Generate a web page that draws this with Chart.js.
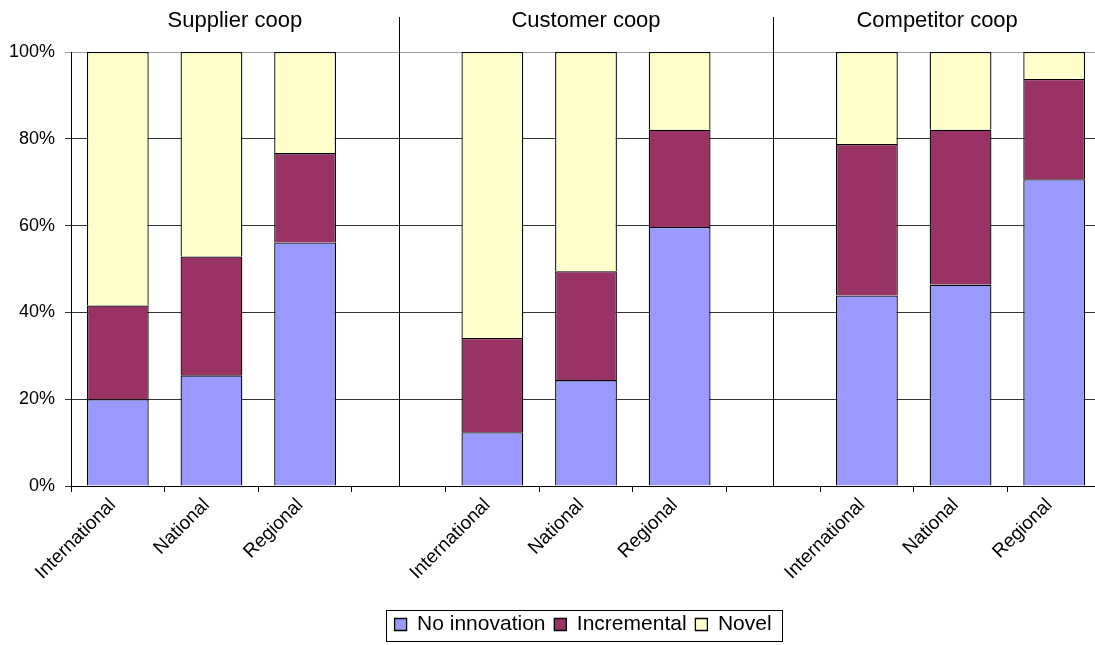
<!DOCTYPE html>
<html>
<head>
<meta charset="utf-8">
<script src="https://cdn.jsdelivr.net/npm/chart.js@4/dist/chart.umd.min.js"></script>
<style>
  html, body { margin: 0; padding: 0; background: #fff; overflow: hidden; }
  #wrap { width: 1095px; height: 645px; overflow: hidden; }
</style>
</head>
<body>
<div id="wrap"><canvas id="chart" width="1101" height="645"></canvas></div>
<script>
// カテゴリ（空文字はグループ間の区切り）
const categories = ['International', 'National', 'Regional', '',
                    'International', 'National', 'Regional', '',
                    'International', 'National', 'Regional'];
const groupTitles = ['Supplier coop', 'Customer coop', 'Competitor coop'];
const seriesNames = ['No innovation', 'Incremental', 'Novel'];

// 値（%）
const noInnovation = [20.0, 25.5, 56.1, null, 12.4, 24.4, 59.7, null, 43.9, 46.4, 70.7];
const incremental  = [21.6, 27.4, 20.6, null, 21.7, 25.1, 22.4, null, 34.9, 35.7, 23.1];
const novel        = [58.4, 47.1, 23.3, null, 65.9, 50.5, 17.9, null, 21.2, 17.9,  6.2];

const COLORS = ['#9999FF', '#993366', '#FFFFCC'];
const FONT = '"Liberation Sans", Arial, sans-serif';

// グループ見出しと区切り線
const groupPlugin = {
  id: 'groups',
  afterDraw(chart) {
    const ctx = chart.ctx;
    const x = chart.scales.x;
    const area = chart.chartArea;
    const seps = [];
    categories.forEach((c, i) => { if (c === '') seps.push(x.getPixelForValue(i)); });
    ctx.save();
    ctx.strokeStyle = '#000';
    ctx.lineWidth = 1;
    seps.forEach(px => {
      const p = Math.round(px) + 0.5;
      ctx.beginPath();
      ctx.moveTo(p, area.top - 35);
      ctx.lineTo(p, area.bottom);
      ctx.stroke();
    });
    const edges = [area.left, ...seps, area.right];
    ctx.fillStyle = '#000';
    ctx.font = '22px ' + FONT;
    ctx.textAlign = 'center';
    ctx.textBaseline = 'middle';
    groupTitles.forEach((t, i) => {
      ctx.fillText(t, (edges[i] + edges[i + 1]) / 2, area.top - 31);
    });
    ctx.restore();
  }
};

// 凡例の枠
const legendBoxPlugin = {
  id: 'legendBox',
  afterDraw(chart) {
    const lg = chart.legend;
    if (!lg || !lg.legendHitBoxes.length) return;
    const hb = lg.legendHitBoxes;
    const left = Math.min(...hb.map(h => h.left)) - 9;
    const right = Math.max(...hb.map(h => h.left + h.width)) + 4;
    const cy = hb[0].top + hb[0].height / 2;
    const ctx = chart.ctx;
    ctx.save();
    ctx.strokeStyle = '#000';
    ctx.lineWidth = 1;
    ctx.strokeRect(Math.round(left) + 0.5, Math.round(cy - 15) + 0.5, Math.round(right - left), 31);
    ctx.restore();
  }
};

Chart.defaults.color = '#000';
Chart.defaults.font.family = FONT;

const mk = (label, data, i) => ({
  label, data,
  backgroundColor: COLORS[i],
  borderColor: '#000',
  borderWidth: 1.3,
  barPercentage: 0.66,
  categoryPercentage: 1.0,
});

new Chart(document.getElementById('chart'), {
  type: 'bar',
  data: {
    labels: categories,
    datasets: [
      mk(seriesNames[0], noInnovation, 0),
      mk(seriesNames[1], incremental, 1),
      mk(seriesNames[2], novel, 2),
    ],
  },
  options: {
    responsive: false,
    animation: false,
    layout: { padding: { top: 52, left: 0, right: 0, bottom: 0 } },
    plugins: {
      tooltip: { enabled: false },
      legend: {
        position: 'bottom',
        fullSize: false,
        labels: {
          font: { size: 21, family: FONT },
          boxWidth: 12,
          boxHeight: 12,
          padding: 3,
          color: '#000',
          // 項目間の余白を少し広げる
          generateLabels: chart =>
            Chart.defaults.plugins.legend.labels.generateLabels(chart)
              .map(l => ({ ...l, text: l.text + ' ' })),
        },
      },
    },
    scales: {
      x: {
        stacked: true,
        border: { color: '#000', width: 1 },
        grid: { drawOnChartArea: false, drawTicks: true, tickLength: 6, color: '#000', offset: true },
        ticks: { font: { size: 19, family: FONT }, minRotation: 45, maxRotation: 45, padding: 2, labelOffset: -5, autoSkip: false },
        afterFit: s => { s.height = 125; },
      },
      y: {
        stacked: true,
        min: 0, max: 100,
        border: { color: '#000', width: 1 },
        grid: {
          color: ctx => (ctx.tick && ctx.tick.value === 100 ? '#a0a0a0' : '#333333'),
          tickLength: 6,
        },
        ticks: { stepSize: 20, font: { size: 18, family: FONT }, padding: 10, callback: v => v + '%' },
        afterFit: s => { s.width = 71; },
      },
    },
  },
  plugins: [groupPlugin, legendBoxPlugin],
});
</script>
</body>
</html>
